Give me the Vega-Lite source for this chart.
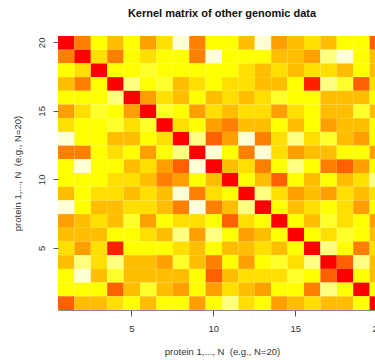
{
"$schema": "https://vega.github.io/schema/vega-lite/v6.json",
"autosize": {"type": "none"},
"width": 317,
"height": 274,
"padding": {"left": 58, "top": 36, "right": 0, "bottom": 50},
"background": "white",
"title": {"text": "Kernel matrix of other genomic data", "font": "Liberation Sans", "fontSize": 11, "fontWeight": "bold", "color": "#111111", "anchor": "middle", "frame": "group", "dx": 5.5, "offset": 8, "baseline": "alphabetic"},
"data": {"values": [
{"x":1,"y":20,"k":1},{"x":2,"y":20,"k":0.64},{"x":3,"y":20,"k":0.27},{"x":4,"y":20,"k":0.45},{"x":5,"y":20,"k":0.27},{"x":6,"y":20,"k":0.55},{"x":7,"y":20,"k":0.36},{"x":8,"y":20,"k":0},{"x":9,"y":20,"k":0.64},{"x":10,"y":20,"k":0.27},{"x":11,"y":20,"k":0.27},{"x":12,"y":20,"k":0.45},{"x":13,"y":20,"k":0},{"x":14,"y":20,"k":0.55},{"x":15,"y":20,"k":0.45},{"x":16,"y":20,"k":0.36},{"x":17,"y":20,"k":0.45},{"x":18,"y":20,"k":0.27},{"x":19,"y":20,"k":0.27},{"x":20,"y":20,"k":0.73},
{"x":1,"y":19,"k":0.64},{"x":2,"y":19,"k":1},{"x":3,"y":19,"k":0.36},{"x":4,"y":19,"k":0.64},{"x":5,"y":19,"k":0.27},{"x":6,"y":19,"k":0.36},{"x":7,"y":19,"k":0.27},{"x":8,"y":19,"k":0.27},{"x":9,"y":19,"k":0.64},{"x":10,"y":19,"k":0},{"x":11,"y":19,"k":0.27},{"x":12,"y":19,"k":0.27},{"x":13,"y":19,"k":0.27},{"x":14,"y":19,"k":0.45},{"x":15,"y":19,"k":0.45},{"x":16,"y":19,"k":0.55},{"x":17,"y":19,"k":0.09},{"x":18,"y":19,"k":0},{"x":19,"y":19,"k":0.27},{"x":20,"y":19,"k":0.45},
{"x":1,"y":18,"k":0.27},{"x":2,"y":18,"k":0.36},{"x":3,"y":18,"k":1},{"x":4,"y":18,"k":0.27},{"x":5,"y":18,"k":0.27},{"x":6,"y":18,"k":0.18},{"x":7,"y":18,"k":0.27},{"x":8,"y":18,"k":0.27},{"x":9,"y":18,"k":0.27},{"x":10,"y":18,"k":0.27},{"x":11,"y":18,"k":0.27},{"x":12,"y":18,"k":0.36},{"x":13,"y":18,"k":0.45},{"x":14,"y":18,"k":0.36},{"x":15,"y":18,"k":0.45},{"x":16,"y":18,"k":0.36},{"x":17,"y":18,"k":0.36},{"x":18,"y":18,"k":0.45},{"x":19,"y":18,"k":0.27},{"x":20,"y":18,"k":0.45},
{"x":1,"y":17,"k":0.45},{"x":2,"y":17,"k":0.64},{"x":3,"y":17,"k":0.27},{"x":4,"y":17,"k":1},{"x":5,"y":17,"k":0.09},{"x":6,"y":17,"k":0.27},{"x":7,"y":17,"k":0.18},{"x":8,"y":17,"k":0.45},{"x":9,"y":17,"k":0.36},{"x":10,"y":17,"k":0.27},{"x":11,"y":17,"k":0.36},{"x":12,"y":17,"k":0.36},{"x":13,"y":17,"k":0.45},{"x":14,"y":17,"k":0.45},{"x":15,"y":17,"k":0.27},{"x":16,"y":17,"k":0.91},{"x":17,"y":17,"k":0.09},{"x":18,"y":17,"k":0.18},{"x":19,"y":17,"k":0.73},{"x":20,"y":17,"k":0.36},
{"x":1,"y":16,"k":0.27},{"x":2,"y":16,"k":0.27},{"x":3,"y":16,"k":0.27},{"x":4,"y":16,"k":0.09},{"x":5,"y":16,"k":1},{"x":6,"y":16,"k":0.55},{"x":7,"y":16,"k":0.36},{"x":8,"y":16,"k":0.45},{"x":9,"y":16,"k":0.27},{"x":10,"y":16,"k":0.45},{"x":11,"y":16,"k":0.36},{"x":12,"y":16,"k":0.45},{"x":13,"y":16,"k":0.36},{"x":14,"y":16,"k":0.18},{"x":15,"y":16,"k":0.27},{"x":16,"y":16,"k":0.27},{"x":17,"y":16,"k":0.45},{"x":18,"y":16,"k":0.45},{"x":19,"y":16,"k":0.45},{"x":20,"y":16,"k":0.27},
{"x":1,"y":15,"k":0.55},{"x":2,"y":15,"k":0.36},{"x":3,"y":15,"k":0.18},{"x":4,"y":15,"k":0.27},{"x":5,"y":15,"k":0.55},{"x":6,"y":15,"k":1},{"x":7,"y":15,"k":0.18},{"x":8,"y":15,"k":0.27},{"x":9,"y":15,"k":0.55},{"x":10,"y":15,"k":0.36},{"x":11,"y":15,"k":0.45},{"x":12,"y":15,"k":0.36},{"x":13,"y":15,"k":0.36},{"x":14,"y":15,"k":0.55},{"x":15,"y":15,"k":0.36},{"x":16,"y":15,"k":0.27},{"x":17,"y":15,"k":0.45},{"x":18,"y":15,"k":0.45},{"x":19,"y":15,"k":0.18},{"x":20,"y":15,"k":0.45},
{"x":1,"y":14,"k":0.36},{"x":2,"y":14,"k":0.27},{"x":3,"y":14,"k":0.27},{"x":4,"y":14,"k":0.18},{"x":5,"y":14,"k":0.36},{"x":6,"y":14,"k":0.18},{"x":7,"y":14,"k":1},{"x":8,"y":14,"k":0.36},{"x":9,"y":14,"k":0.27},{"x":10,"y":14,"k":0.55},{"x":11,"y":14,"k":0.64},{"x":12,"y":14,"k":0.45},{"x":13,"y":14,"k":0.45},{"x":14,"y":14,"k":0.27},{"x":15,"y":14,"k":0.45},{"x":16,"y":14,"k":0.27},{"x":17,"y":14,"k":0.55},{"x":18,"y":14,"k":0.45},{"x":19,"y":14,"k":0.45},{"x":20,"y":14,"k":0.27},
{"x":1,"y":13,"k":0},{"x":2,"y":13,"k":0.27},{"x":3,"y":13,"k":0.27},{"x":4,"y":13,"k":0.45},{"x":5,"y":13,"k":0.45},{"x":6,"y":13,"k":0.27},{"x":7,"y":13,"k":0.36},{"x":8,"y":13,"k":1},{"x":9,"y":13,"k":0.09},{"x":10,"y":13,"k":0.73},{"x":11,"y":13,"k":0.55},{"x":12,"y":13,"k":0},{"x":13,"y":13,"k":0.64},{"x":14,"y":13,"k":0.36},{"x":15,"y":13,"k":0.09},{"x":16,"y":13,"k":0.36},{"x":17,"y":13,"k":0.18},{"x":18,"y":13,"k":0.45},{"x":19,"y":13,"k":0.55},{"x":20,"y":13,"k":0.27},
{"x":1,"y":12,"k":0.64},{"x":2,"y":12,"k":0.64},{"x":3,"y":12,"k":0.27},{"x":4,"y":12,"k":0.36},{"x":5,"y":12,"k":0.27},{"x":6,"y":12,"k":0.55},{"x":7,"y":12,"k":0.27},{"x":8,"y":12,"k":0.09},{"x":9,"y":12,"k":1},{"x":10,"y":12,"k":0},{"x":11,"y":12,"k":0.27},{"x":12,"y":12,"k":0.64},{"x":13,"y":12,"k":0},{"x":14,"y":12,"k":0.36},{"x":15,"y":12,"k":0.55},{"x":16,"y":12,"k":0.45},{"x":17,"y":12,"k":0.45},{"x":18,"y":12,"k":0.27},{"x":19,"y":12,"k":0.27},{"x":20,"y":12,"k":0.55},
{"x":1,"y":11,"k":0.27},{"x":2,"y":11,"k":0},{"x":3,"y":11,"k":0.27},{"x":4,"y":11,"k":0.27},{"x":5,"y":11,"k":0.45},{"x":6,"y":11,"k":0.36},{"x":7,"y":11,"k":0.55},{"x":8,"y":11,"k":0.73},{"x":9,"y":11,"k":0},{"x":10,"y":11,"k":1},{"x":11,"y":11,"k":0.45},{"x":12,"y":11,"k":0.36},{"x":13,"y":11,"k":0.64},{"x":14,"y":11,"k":0.27},{"x":15,"y":11,"k":0.09},{"x":16,"y":11,"k":0.27},{"x":17,"y":11,"k":0.64},{"x":18,"y":11,"k":0.73},{"x":19,"y":11,"k":0.55},{"x":20,"y":11,"k":0.27},
{"x":1,"y":10,"k":0.27},{"x":2,"y":10,"k":0.27},{"x":3,"y":10,"k":0.27},{"x":4,"y":10,"k":0.36},{"x":5,"y":10,"k":0.36},{"x":6,"y":10,"k":0.45},{"x":7,"y":10,"k":0.64},{"x":8,"y":10,"k":0.55},{"x":9,"y":10,"k":0.27},{"x":10,"y":10,"k":0.45},{"x":11,"y":10,"k":1},{"x":12,"y":10,"k":0.27},{"x":13,"y":10,"k":0.45},{"x":14,"y":10,"k":0.73},{"x":15,"y":10,"k":0.27},{"x":16,"y":10,"k":0.45},{"x":17,"y":10,"k":0.27},{"x":18,"y":10,"k":0.45},{"x":19,"y":10,"k":0.36},{"x":20,"y":10,"k":0.09},
{"x":1,"y":9,"k":0.45},{"x":2,"y":9,"k":0.27},{"x":3,"y":9,"k":0.36},{"x":4,"y":9,"k":0.36},{"x":5,"y":9,"k":0.45},{"x":6,"y":9,"k":0.36},{"x":7,"y":9,"k":0.45},{"x":8,"y":9,"k":0},{"x":9,"y":9,"k":0.64},{"x":10,"y":9,"k":0.36},{"x":11,"y":9,"k":0.27},{"x":12,"y":9,"k":1},{"x":13,"y":9,"k":0.09},{"x":14,"y":9,"k":0.36},{"x":15,"y":9,"k":0.55},{"x":16,"y":9,"k":0.45},{"x":17,"y":9,"k":0.55},{"x":18,"y":9,"k":0.36},{"x":19,"y":9,"k":0.45},{"x":20,"y":9,"k":0.36},
{"x":1,"y":8,"k":0},{"x":2,"y":8,"k":0.27},{"x":3,"y":8,"k":0.45},{"x":4,"y":8,"k":0.45},{"x":5,"y":8,"k":0.36},{"x":6,"y":8,"k":0.36},{"x":7,"y":8,"k":0.45},{"x":8,"y":8,"k":0.64},{"x":9,"y":8,"k":0},{"x":10,"y":8,"k":0.64},{"x":11,"y":8,"k":0.45},{"x":12,"y":8,"k":0.09},{"x":13,"y":8,"k":1},{"x":14,"y":8,"k":0.27},{"x":15,"y":8,"k":0.45},{"x":16,"y":8,"k":0.36},{"x":17,"y":8,"k":0.27},{"x":18,"y":8,"k":0.36},{"x":19,"y":8,"k":0.55},{"x":20,"y":8,"k":0.27},
{"x":1,"y":7,"k":0.55},{"x":2,"y":7,"k":0.45},{"x":3,"y":7,"k":0.36},{"x":4,"y":7,"k":0.45},{"x":5,"y":7,"k":0.18},{"x":6,"y":7,"k":0.55},{"x":7,"y":7,"k":0.27},{"x":8,"y":7,"k":0.36},{"x":9,"y":7,"k":0.36},{"x":10,"y":7,"k":0.27},{"x":11,"y":7,"k":0.73},{"x":12,"y":7,"k":0.36},{"x":13,"y":7,"k":0.27},{"x":14,"y":7,"k":1},{"x":15,"y":7,"k":0.27},{"x":16,"y":7,"k":0.45},{"x":17,"y":7,"k":0.18},{"x":18,"y":7,"k":0.36},{"x":19,"y":7,"k":0.27},{"x":20,"y":7,"k":0.55},
{"x":1,"y":6,"k":0.45},{"x":2,"y":6,"k":0.45},{"x":3,"y":6,"k":0.45},{"x":4,"y":6,"k":0.27},{"x":5,"y":6,"k":0.27},{"x":6,"y":6,"k":0.36},{"x":7,"y":6,"k":0.45},{"x":8,"y":6,"k":0.09},{"x":9,"y":6,"k":0.55},{"x":10,"y":6,"k":0.09},{"x":11,"y":6,"k":0.27},{"x":12,"y":6,"k":0.55},{"x":13,"y":6,"k":0.45},{"x":14,"y":6,"k":0.27},{"x":15,"y":6,"k":1},{"x":16,"y":6,"k":0.27},{"x":17,"y":6,"k":0.36},{"x":18,"y":6,"k":0.18},{"x":19,"y":6,"k":0.27},{"x":20,"y":6,"k":0.45},
{"x":1,"y":5,"k":0.36},{"x":2,"y":5,"k":0.55},{"x":3,"y":5,"k":0.36},{"x":4,"y":5,"k":0.91},{"x":5,"y":5,"k":0.27},{"x":6,"y":5,"k":0.27},{"x":7,"y":5,"k":0.27},{"x":8,"y":5,"k":0.36},{"x":9,"y":5,"k":0.45},{"x":10,"y":5,"k":0.27},{"x":11,"y":5,"k":0.45},{"x":12,"y":5,"k":0.45},{"x":13,"y":5,"k":0.36},{"x":14,"y":5,"k":0.45},{"x":15,"y":5,"k":0.27},{"x":16,"y":5,"k":1},{"x":17,"y":5,"k":0.09},{"x":18,"y":5,"k":0.27},{"x":19,"y":5,"k":0.64},{"x":20,"y":5,"k":0.36},
{"x":1,"y":4,"k":0.45},{"x":2,"y":4,"k":0.09},{"x":3,"y":4,"k":0.36},{"x":4,"y":4,"k":0.09},{"x":5,"y":4,"k":0.45},{"x":6,"y":4,"k":0.45},{"x":7,"y":4,"k":0.55},{"x":8,"y":4,"k":0.18},{"x":9,"y":4,"k":0.45},{"x":10,"y":4,"k":0.64},{"x":11,"y":4,"k":0.27},{"x":12,"y":4,"k":0.55},{"x":13,"y":4,"k":0.27},{"x":14,"y":4,"k":0.18},{"x":15,"y":4,"k":0.36},{"x":16,"y":4,"k":0.09},{"x":17,"y":4,"k":1},{"x":18,"y":4,"k":0.73},{"x":19,"y":4,"k":0.09},{"x":20,"y":4,"k":0.45},
{"x":1,"y":3,"k":0.27},{"x":2,"y":3,"k":0},{"x":3,"y":3,"k":0.45},{"x":4,"y":3,"k":0.18},{"x":5,"y":3,"k":0.45},{"x":6,"y":3,"k":0.45},{"x":7,"y":3,"k":0.45},{"x":8,"y":3,"k":0.45},{"x":9,"y":3,"k":0.27},{"x":10,"y":3,"k":0.73},{"x":11,"y":3,"k":0.45},{"x":12,"y":3,"k":0.36},{"x":13,"y":3,"k":0.36},{"x":14,"y":3,"k":0.36},{"x":15,"y":3,"k":0.18},{"x":16,"y":3,"k":0.27},{"x":17,"y":3,"k":0.73},{"x":18,"y":3,"k":1},{"x":19,"y":3,"k":0.27},{"x":20,"y":3,"k":0.45},
{"x":1,"y":2,"k":0.27},{"x":2,"y":2,"k":0.27},{"x":3,"y":2,"k":0.27},{"x":4,"y":2,"k":0.73},{"x":5,"y":2,"k":0.45},{"x":6,"y":2,"k":0.18},{"x":7,"y":2,"k":0.45},{"x":8,"y":2,"k":0.55},{"x":9,"y":2,"k":0.27},{"x":10,"y":2,"k":0.55},{"x":11,"y":2,"k":0.36},{"x":12,"y":2,"k":0.45},{"x":13,"y":2,"k":0.55},{"x":14,"y":2,"k":0.27},{"x":15,"y":2,"k":0.27},{"x":16,"y":2,"k":0.64},{"x":17,"y":2,"k":0.09},{"x":18,"y":2,"k":0.27},{"x":19,"y":2,"k":1},{"x":20,"y":2,"k":0.27},
{"x":1,"y":1,"k":0.73},{"x":2,"y":1,"k":0.45},{"x":3,"y":1,"k":0.45},{"x":4,"y":1,"k":0.36},{"x":5,"y":1,"k":0.27},{"x":6,"y":1,"k":0.45},{"x":7,"y":1,"k":0.27},{"x":8,"y":1,"k":0.27},{"x":9,"y":1,"k":0.55},{"x":10,"y":1,"k":0.27},{"x":11,"y":1,"k":0.09},{"x":12,"y":1,"k":0.36},{"x":13,"y":1,"k":0.27},{"x":14,"y":1,"k":0.55},{"x":15,"y":1,"k":0.45},{"x":16,"y":1,"k":0.36},{"x":17,"y":1,"k":0.45},{"x":18,"y":1,"k":0.45},{"x":19,"y":1,"k":0.27},{"x":20,"y":1,"k":1}
]},
"mark": {"type": "rect", "clip": true},
"encoding": {
"x": {"field": "x", "type": "ordinal", "sort": "ascending",
 "scale": {"range": [0, 328], "paddingInner": 0, "paddingOuter": 0},
 "axis": {"values": [5, 10, 15, 20], "title": "protein 1,..., N\u00a0 (e.g., N=20)", "labelAngle": 0, "labelFont": "Liberation Sans", "labelFontSize": 9.5, "labelColor": "#333333", "labelPadding": 7, "tickSize": 6, "tickColor": "#555555", "domain": true, "domainColor": "#8a8a8a", "titleFont": "Liberation Sans", "titleFontSize": 9.5, "titleFontWeight": "normal", "titleColor": "#333333", "titlePadding": 14}},
"y": {"field": "y", "type": "ordinal", "sort": "descending",
 "scale": {"paddingInner": 0, "paddingOuter": 0},
 "axis": {"values": [5, 10, 15, 20], "title": "protein 1,..., N\u00a0 (e.g., N=20)", "labelAngle": 270, "labelAlign": "center", "labelBaseline": "bottom", "labelFont": "Liberation Sans", "labelFontSize": 9.5, "labelColor": "#333333", "labelPadding": 7, "tickSize": 5, "tickColor": "#555555", "domain": false, "titleFont": "Liberation Sans", "titleFontSize": 9.5, "titleFontWeight": "normal", "titleColor": "#333333", "titlePadding": 14}},
"color": {"field": "k", "type": "quantitative", "legend": null,
 "scale": {"type": "quantize", "domain": [0, 1], "nice": false, "zero": false,
  "range": ["#FFFFD5", "#FFFF80", "#FFFF2A", "#FFFF00", "#FFDF00", "#FFBF00", "#FF9F00", "#FF8000", "#FF6000", "#FF4000", "#FF2000", "#FF0000"]}}
},
"config": {"view": {"stroke": null}, "axis": {"grid": false}}
}
